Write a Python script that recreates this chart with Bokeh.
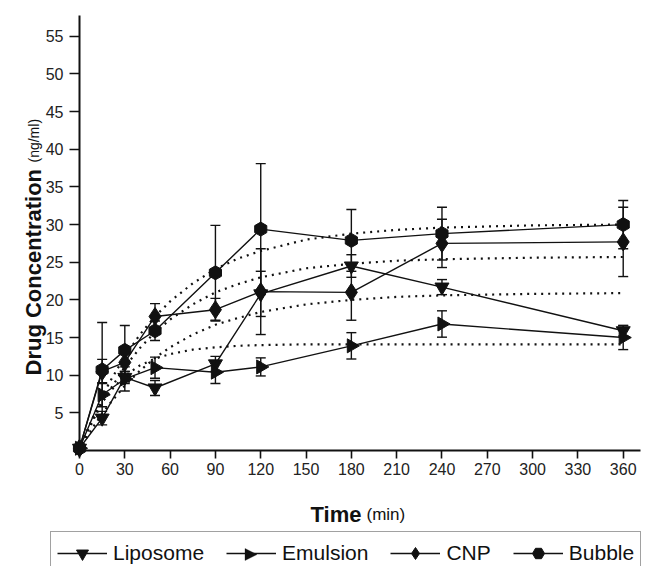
import math
from bokeh.plotting import figure
from bokeh.models import (Range1d, FixedTicker, Whisker, TeeHead, ColumnDataSource,
                          Legend, LegendItem, Label, PolyAnnotation)
from bokeh.embed import file_html
from bokeh.resources import INLINE

# ---- data ----
time_min = [0, 15, 30, 50, 90, 120, 180, 240, 360]
liposome = [0.3, 4.3, 9.7, 8.3, 11.5, 20.8, 24.5, 21.7, 15.9]
liposome_err = [0, 0.9, 0.8, 1.0, 1.0, 3.0, 1.5, 1.0, 0.7]
emulsion = [0.3, 7.4, 9.5, 11.0, 10.4, 11.1, 13.9, 16.8, 15.0]
emulsion_err = [0, 1.6, 1.6, 1.4, 1.5, 1.2, 1.75, 1.75, 1.6]
cnp = [0.3, 10.5, 11.7, 17.8, 18.7, 21.1, 21.0, 27.5, 27.7]
cnp_err = [0, 1.6, 1.2, 1.7, 1.5, 5.7, 3.7, 3.2, 4.6]
bubble = [0.3, 10.7, 13.3, 15.9, 23.6, 29.4, 27.9, 28.8, 30.0]
bubble_err = [0, 6.3, 3.3, 1.3, 6.3, 8.7, 4.1, 3.5, 3.2]

# dotted fitted curves
fit_time = [0, 5, 10, 15, 20, 30, 40, 50, 60, 75, 90, 105, 120, 150, 180, 210, 240, 300, 360]
fit_bubble = [0, 2.6, 4.9, 7.1, 9.1, 12.5, 15.4, 17.8, 19.8, 22.2, 24.1, 25.5, 26.5, 28.0, 28.8, 29.3, 29.6, 29.9, 30.0]
fit_cnp = [0, 2.3, 4.4, 6.3, 8.0, 11.1, 13.6, 15.7, 17.4, 19.4, 21.0, 22.1, 23.0, 24.2, 24.8, 25.2, 25.4, 25.6, 25.7]
fit_liposome = [0, 1.8, 3.4, 4.9, 6.2, 8.6, 10.6, 12.3, 13.7, 15.4, 16.7, 17.6, 18.4, 19.4, 20.0, 20.4, 20.6, 20.8, 20.9]
fit_emulsion = [0, 2.6, 4.7, 6.4, 7.8, 9.9, 11.3, 12.2, 12.8, 13.4, 13.7, 13.9, 14.0, 14.1, 14.1, 14.1, 14.1, 14.1, 14.1]

x_ticks = [0, 30, 60, 90, 120, 150, 180, 210, 240, 270, 300, 330, 360]
y_ticks = [5, 10, 15, 20, 25, 30, 35, 40, 45, 50, 55]
x_axis_end = 371.5
y_axis_end = 57.8

FONT = "Liberation Sans"
INK = "#111111"

# The frame covers the whole canvas; axes are pinned at x=0 / y=0 inside it
p = figure(width=645, height=566, output_backend="svg", toolbar_location=None,
           x_range=Range1d(-52.31, 374.76), y_range=Range1d(-15.405, 59.76),
           min_border=0)
p.outline_line_color = None
p.grid.grid_line_color = None
p.background_fill_color = "white"

for ax in (p.xaxis[0], p.yaxis[0]):
    ax.axis_line_color = INK
    ax.axis_line_width = 2
    ax.major_tick_line_color = INK
    ax.major_tick_line_width = 1.6
    ax.major_tick_in = 0
    ax.minor_tick_line_color = None
    ax.major_label_text_font = FONT
    ax.major_label_text_font_size = "16px"
    ax.major_label_text_color = "#222222"
    ax.fixed_location = 0

p.xaxis.bounds = (0, x_axis_end)
p.yaxis.bounds = (0, y_axis_end)
p.xaxis.ticker = FixedTicker(ticks=x_ticks)
p.yaxis.ticker = FixedTicker(ticks=y_ticks)
p.xaxis.major_tick_out = 8
p.yaxis.major_tick_out = 10
p.xaxis.major_label_standoff = 5
p.yaxis.major_label_standoff = 6

# fitted dotted curves
for fy in (fit_bubble, fit_cnp, fit_liposome, fit_emulsion):
    p.line(fit_time, fy, line_color=INK, line_width=2.2, line_dash="2 5")

series = [
    ("Liposome", liposome, liposome_err, "inverted_triangle", 0.0, 14),
    ("Emulsion", emulsion, emulsion_err, "triangle", -math.pi / 2, 14),
    ("CNP", cnp, cnp_err, "diamond", 0.0, 18),
    ("Bubble", bubble, bubble_err, "hex", math.pi / 2, 14),
]

items = []
for name, vals, errs, marker, ang, size in series:
    base = [t for t, e in zip(time_min, errs) if e > 0]
    up = [v + e for v, e in zip(vals, errs) if e > 0]
    lo = [v - e for v, e in zip(vals, errs) if e > 0]
    src = ColumnDataSource(dict(base=base, upper=up, lower=lo))
    w = Whisker(base="base", upper="upper", lower="lower", source=src,
                line_color=INK, line_width=1.4,
                upper_head=TeeHead(size=10, line_color=INK, line_width=1.4),
                lower_head=TeeHead(size=10, line_color=INK, line_width=1.4))
    p.add_layout(w)
    lr = p.line(time_min, vals, line_color=INK, line_width=1.4)
    sr = p.scatter(time_min, vals, marker=marker, angle=ang, size=size,
                   fill_color=INK, line_color=INK)
    # legend glyphs ignore marker angle, so the rotated triangle gets its own symbol below
    rends = [lr] if ang < 0 else [lr, sr]
    items.append(LegendItem(label=name, renderers=rends))

legend = Legend(items=items, orientation="horizontal", location=(50, -9),
                glyph_width=50, glyph_height=30, label_height=22, label_standoff=6,
                spacing=22, padding=6, border_line_color="#444444", border_line_width=1.5,
                label_text_font=FONT, label_text_font_size="21px", label_text_color=INK,
                background_fill_color="white", background_fill_alpha=0.0)
p.add_layout(legend, "center")

# right-pointing triangle symbol for the Emulsion legend entry (screen units)
cx, cy = 250, 12
p.add_layout(PolyAnnotation(xs=[cx - 5.5, cx - 5.5, cx + 6.5], ys=[cy + 6, cy - 6, cy],
                            xs_units="screen", ys_units="screen",
                            fill_color=INK, fill_alpha=1.0, line_color=INK, line_width=1))

# axis titles (mixed bold / regular); screen units from the canvas bottom-left
p.add_layout(Label(x=33, y=191, x_units="screen", y_units="screen", angle=math.pi / 2,
                   text="Drug Concentration", text_font=FONT, text_font_style="bold",
                   text_font_size="22px", text_color=INK, text_baseline="alphabetic",
                   text_align="left"))
p.add_layout(Label(x=33, y=404, x_units="screen", y_units="screen", angle=math.pi / 2,
                   text="(ng/ml)", text_font=FONT, text_font_size="14px",
                   text_color=INK, text_baseline="alphabetic", text_align="left"))
p.add_layout(Label(x=310, y=52, x_units="screen", y_units="screen",
                   text="Time", text_font=FONT, text_font_style="bold",
                   text_font_size="22px", text_color=INK, text_baseline="alphabetic",
                   text_align="left"))
p.add_layout(Label(x=366, y=52, x_units="screen", y_units="screen",
                   text="(min)", text_font=FONT, text_font_size="17px",
                   text_color=INK, text_baseline="alphabetic", text_align="left"))

open("out.html", "w").write(file_html(p, INLINE))
